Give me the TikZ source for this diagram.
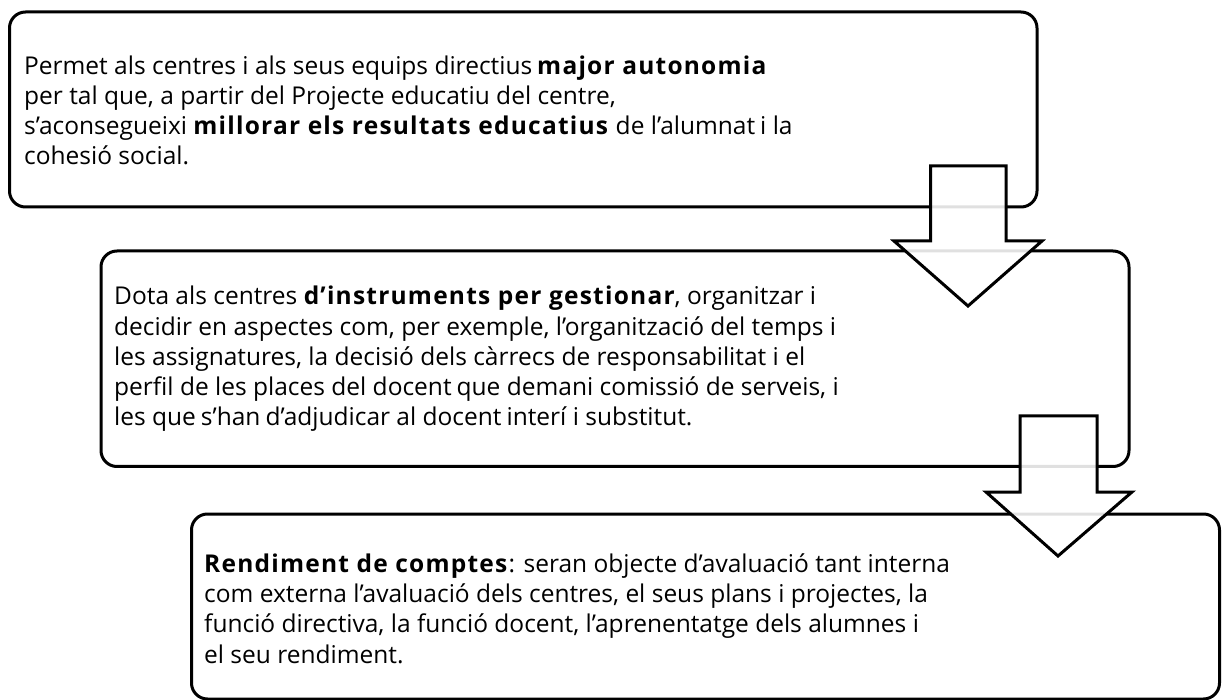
\documentclass[tikz,border=0pt]{standalone}
\usepackage{fontspec}
\setmainfont{Open Sans}[BoldFeatures={LetterSpace=5}]
\newcommand{\wsp}{\hspace{5pt}}
\begin{document}
\begin{tikzpicture}[x=1pt,y=-1pt,
  box/.style={draw=black, line width=3pt, rounded corners=16pt},
  txt/.style={anchor=base west, inner sep=0pt, align=left, font=\fontsize{24.5}{30.3}\selectfont},
  bigarrow/.style={draw=black, line width=3pt, fill=white, fill opacity=0.88, line join=miter}]
\useasboundingbox (0,0) rectangle (1224,700);
% boxes
\draw[box] (9.5,12) rectangle (1037,207);
\draw[box] (101,251) rectangle (1129,466.5);
\draw[box] (191.5,514) rectangle (1219.5,699);
% texts (anchored at the baseline of the last line)
\node[txt] (t1) at (24,165) {Permet als centres i als seus equips directius\wsp\textbf{major autonomia}\\
per tal que, a partir del Projecte educatiu del centre,\\
s’aconsegueixi \textbf{millorar els resultats educatius} de l’alumnat\wsp i la\\
cohesió social.};
\node[txt] (t2) at (114,426) {Dota als centres \textbf{d’instruments per gestionar}, organitzar i\\
decidir en aspectes com, per exemple, l’organització del temps i\\
les assignatures, la decisió dels càrrecs de responsabilitat i el\\
perfil de les places del docent\wsp que demani comissió de serveis, i\\
les que\wsp s’han\wsp d’adjudicar al docent\wsp interí i substitut.};
\node[txt] (t3) at (204,663) {\textbf{Rendiment de comptes}: seran objecte d’avaluació tant interna\\
com externa l’avaluació dels centres, el seus plans i projectes, la\\
funció directiva, la funció docent, l’aprenentatge dels alumnes i\\
el seu rendiment.};
% arrows
\draw[bigarrow] (930.5,166) -- (1006,166) -- (1006,241) -- (1042,241) -- (968,306) -- (894,241) -- (930.5,241) -- cycle;
\draw[bigarrow] (1020,416) -- (1097,416) -- (1097,492) -- (1132,492) -- (1058,556) -- (986,492) -- (1020,492) -- cycle;
\end{tikzpicture}
\end{document}
